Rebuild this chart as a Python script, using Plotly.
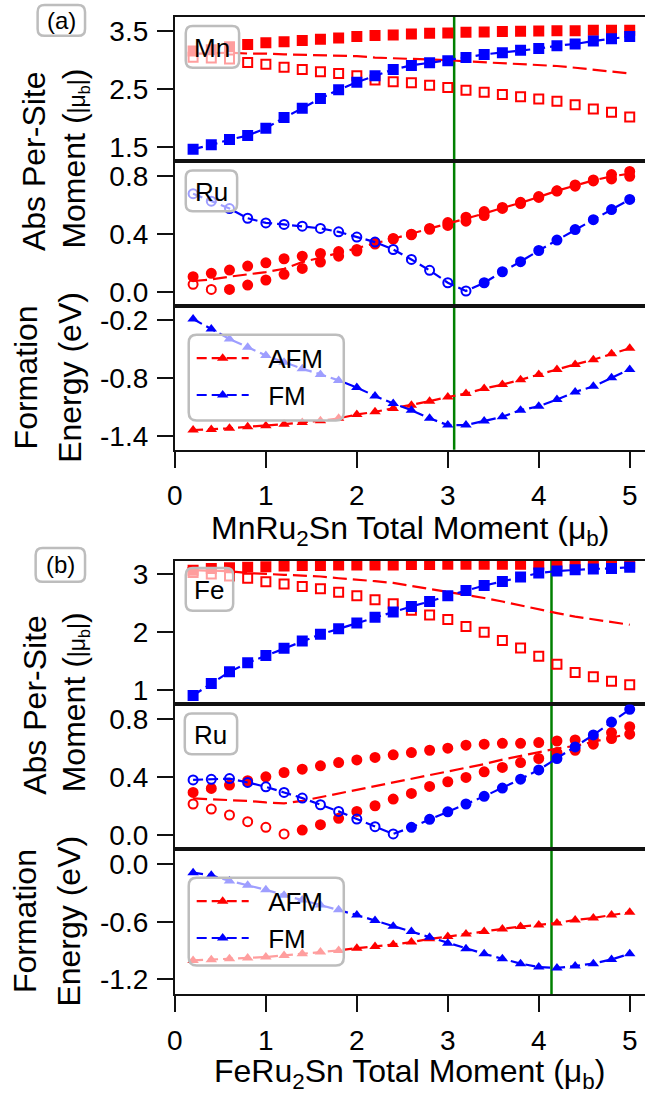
import plotly.graph_objects as go

# ---------------- data ----------------
x_moment = [0.2, 0.4, 0.6, 0.8, 1.0, 1.2, 1.4, 1.6, 1.8, 2.0, 2.2, 2.4, 2.6,
            2.8, 3.0, 3.2, 3.4, 3.6, 3.8, 4.0, 4.2, 4.4, 4.6, 4.8, 5.0]

# MnRu2Sn : Mn site moments (negative = antiparallel, drawn open)
mn_afm_site1 = [3.16, 3.18, 3.23, 3.27, 3.30, 3.32, 3.34, 3.36, 3.385, 3.41, 3.425, 3.436, 3.454,
                3.465, 3.47, 3.48, 3.488, 3.494, 3.50, 3.505, 3.51, 3.51, 3.517, 3.517, 3.517]
mn_afm_site2 = [-3.05, -3.04, -3.02, -2.96, -2.93, -2.88, -2.84, -2.80, -2.77, -2.73, -2.66, -2.63, -2.61,
                -2.57, -2.53, -2.48, -2.445, -2.41, -2.37, -2.33, -2.29, -2.23, -2.16, -2.10, -2.02]
mn_afm_mean = [3.11, 3.12, 3.13, 3.115, 3.115, 3.10, 3.09, 3.08, 3.075, 3.07, 3.045, 3.035, 3.03,
               3.02, 3.0, 2.98, 2.965, 2.95, 2.935, 2.92, 2.90, 2.87, 2.84, 2.81, 2.77]
mn_fm = [1.466, 1.54, 1.63, 1.70, 1.827, 2.01, 2.17, 2.34, 2.49, 2.62, 2.73, 2.84, 2.91,
         2.955, 2.99, 3.047, 3.10, 3.13, 3.17, 3.20, 3.25, 3.28, 3.33, 3.37, 3.41]

# MnRu2Sn : Ru site moments
ru_afm_site1_a = [0.106, 0.129, 0.152, 0.179, 0.202, 0.23, 0.248, 0.267, 0.28, 0.294, 0.34, 0.37, 0.40,
                  0.44, 0.48, 0.517, 0.556, 0.585, 0.62, 0.66, 0.70, 0.74, 0.775, 0.812, 0.834]
ru_afm_site2_a = [-0.053, -0.018, 0.018, 0.048, 0.083, 0.122, 0.163, 0.207, 0.248, 0.283, 0.332, 0.366, 0.396,
                  0.434, 0.46, 0.49, 0.529, 0.578, 0.612, 0.654, 0.698, 0.732, 0.768, 0.782, 0.80]
ru_afm_mean_a = [0.076, 0.087, 0.106, 0.122, 0.138, 0.161, 0.207, 0.237, 0.271, 0.306, 0.336, 0.368, 0.402,
                 0.437, 0.471, 0.506, 0.543, 0.582, 0.616, 0.657, 0.70, 0.736, 0.772, 0.80, 0.818]
ru_fm_a = [-0.68, -0.628, -0.577, -0.51, -0.478, -0.467, -0.455, -0.44, -0.416, -0.38, -0.345, -0.294, -0.225,
           -0.15, -0.064, -0.007, 0.064, 0.14, 0.21, 0.287, 0.359, 0.432, 0.50, 0.57, 0.64]

# MnRu2Sn : formation energy (eV)
form_afm_a = [-1.341, -1.336, -1.324, -1.307, -1.297, -1.28, -1.262, -1.245, -1.22, -1.18, -1.152, -1.118, -1.083,
              -1.042, -0.998, -0.963, -0.911, -0.87, -0.819, -0.764, -0.712, -0.66, -0.612, -0.55, -0.493]
form_fm_a = [-0.19, -0.293, -0.396, -0.482, -0.568, -0.637, -0.705, -0.764, -0.826, -0.90, -0.988, -1.066, -1.135,
             -1.22, -1.29, -1.29, -1.248, -1.204, -1.135, -1.094, -1.025, -0.946, -0.888, -0.798, -0.712]

# FeRu2Sn : Fe site moments
fe_afm_site1 = [3.07, 3.10, 3.11, 3.12, 3.13, 3.14, 3.15, 3.15, 3.16, 3.16, 3.16, 3.16, 3.165,
                3.165, 3.17, 3.17, 3.17, 3.17, 3.17, 3.17, 3.175, 3.175, 3.175, 3.175, 3.175]
fe_afm_site2 = [-3.03, -3.005, -2.97, -2.93, -2.87, -2.83, -2.79, -2.75, -2.69, -2.63, -2.56, -2.49, -2.38,
                -2.30, -2.22, -2.10, -2.0, -1.86, -1.73, -1.59, -1.45, -1.31, -1.235, -1.16, -1.10]
fe_afm_mean = [3.07, 3.06, 3.05, 3.02, 3.0, 2.99, 2.975, 2.96, 2.93, 2.91, 2.88, 2.85, 2.80,
               2.75, 2.70, 2.64, 2.59, 2.53, 2.46, 2.39, 2.33, 2.27, 2.22, 2.17, 2.13]
fe_fm = [0.915, 1.12, 1.32, 1.475, 1.60, 1.725, 1.85, 1.965, 2.06, 2.16, 2.26, 2.35, 2.445,
         2.53, 2.63, 2.72, 2.805, 2.875, 2.95, 3.02, 3.055, 3.075, 3.09, 3.10, 3.12]

# FeRu2Sn : Ru site moments
ru_afm_site1_b = [0.294, 0.322, 0.345, 0.375, 0.402, 0.432, 0.455, 0.478, 0.501, 0.519, 0.536, 0.554, 0.57,
                  0.586, 0.60, 0.621, 0.628, 0.634, 0.634, 0.639, 0.65, 0.657, 0.667, 0.708, 0.749]
ru_afm_site2_b = [-0.214, -0.179, -0.138, -0.092, -0.053, -0.007, 0.034, 0.071, 0.115, 0.163, 0.202, 0.248, 0.287,
                  0.336, 0.368, 0.398, 0.437, 0.467, 0.501, 0.529, 0.57, 0.586, 0.628, 0.667, 0.697]
ru_afm_mean_b = [0.253, 0.248, 0.244, 0.235, 0.225, 0.218, 0.236, 0.261, 0.287, 0.312, 0.338, 0.363, 0.389,
                 0.414, 0.44, 0.465, 0.49, 0.521, 0.547, 0.572, 0.598, 0.616, 0.644, 0.674, 0.701]
ru_fm_b = [-0.381, -0.385, -0.39, -0.363, -0.333, -0.294, -0.255, -0.209, -0.163, -0.11, -0.057, -0.007, 0.053,
           0.108, 0.16, 0.214, 0.267, 0.324, 0.386, 0.45, 0.529, 0.609, 0.692, 0.781, 0.869]

# FeRu2Sn : formation energy (eV)
form_afm_b = [-1.004, -0.997, -0.987, -0.98, -0.969, -0.952, -0.935, -0.917, -0.90, -0.876, -0.858, -0.838, -0.813,
              -0.779, -0.755, -0.727, -0.703, -0.675, -0.651, -0.633, -0.613, -0.581, -0.561, -0.53, -0.502]
form_fm_b = [-0.087, -0.114, -0.173, -0.218, -0.266, -0.322, -0.374, -0.426, -0.475, -0.53, -0.588, -0.647, -0.703,
             -0.761, -0.824, -0.883, -0.935, -0.987, -1.038, -1.073, -1.083, -1.062, -1.038, -0.994, -0.935]

# ground-state total moment marked by the green line
ground_state_moment = [3.07, 4.14]

compounds = ["MnRu<sub>2</sub>Sn", "FeRu<sub>2</sub>Sn"]
site_labels = ["Mn", "Ru", "Fe", "Ru"]
panel_tags = ["(a)", "(b)"]
series_names = ["AFM", "FM"]
x_tick_vals = [0, 1, 2, 3, 4, 5]
y_tick_vals = [[1.5, 2.5, 3.5], [0.0, 0.4, 0.8], [-1.4, -0.8, -0.2],
               [1, 2, 3], [0.0, 0.4, 0.8], [-1.2, -0.6, 0.0]]
y_tick_text = [["1.5", "2.5", "3.5"], ["0.0", "0.4", "0.8"], ["-1.4", "-0.8", "-0.2"],
               ["1", "2", "3"], ["0.0", "0.4", "0.8"], ["-1.2", "-0.6", "0.0"]]
y_ranges = [[1.254, 3.746], [-0.096, 0.903], [-1.547, -0.053],
            [0.76, 3.233], [-0.1, 0.903], [-1.359, 0.156]]
x_range = [0, 5.168]

# ---------------- styling / layout helpers ----------------
W, H = 645, 1096
RED, BLUE, GREEN = "#ff0000", "#0000ff", "#008000"
FONT = "Liberation Sans, Arial, Helvetica, sans-serif"
TICK_FS = 28
TITLE_FS = 32
X_LEFT = 169


def fx(p):
    return p / W


def fy(p):
    return 1 - p / H


rows_px = [(15, 160), (160, 305), (305, 449.5), (560.7, 705), (705, 850.5), (850.5, 996)]

fig = go.Figure()


def signed_markers(vals, base):
    return [abs(v) for v in vals], [base if v >= 0 else base + "-open" for v in vals]


def add_site(vals, color, base, row, size=9):
    y, sym = signed_markers(vals, base)
    fig.add_trace(go.Scatter(
        x=x_moment, y=y, mode="markers", xaxis=f"x{row}", yaxis=f"y{row}",
        marker=dict(symbol=sym, color=color, size=size, line=dict(color=color, width=2)),
        showlegend=False, hoverinfo="skip"))


def add_mean(vals, row):
    fig.add_trace(go.Scatter(
        x=x_moment, y=vals, mode="lines", xaxis=f"x{row}", yaxis=f"y{row}",
        line=dict(color=RED, width=2.2, dash="14px,6px"), showlegend=False, hoverinfo="skip"))


def add_fm(vals, base, row, size=9):
    y, sym = signed_markers(vals, base)
    fig.add_trace(go.Scatter(
        x=x_moment, y=y, mode="lines+markers", xaxis=f"x{row}", yaxis=f"y{row}",
        line=dict(color=BLUE, width=2.2, dash="10px,5px"),
        marker=dict(symbol=sym, color=BLUE, size=size, line=dict(color=BLUE, width=2)),
        showlegend=False, hoverinfo="skip"))


def add_energy(vals, color, name, row, legend):
    fig.add_trace(go.Scatter(
        x=x_moment, y=vals, mode="lines+markers", name="\u00a0\u00a0" + name,
        xaxis=f"x{row}", yaxis=f"y{row}",
        line=dict(color=color, width=2.2, dash="10px,5px"),
        marker=dict(symbol="triangle-up", color=color, size=10),
        legend=legend, showlegend=True, hoverinfo="skip"))


# panel (a)
add_site(mn_afm_site1, RED, "square", 1)
add_site(mn_afm_site2, RED, "square", 1)
add_mean(mn_afm_mean, 1)
add_fm(mn_fm, "square", 1)
add_site(ru_afm_site1_a, RED, "circle", 2)
add_site(ru_afm_site2_a, RED, "circle", 2)
add_mean(ru_afm_mean_a, 2)
add_fm(ru_fm_a, "circle", 2)
add_energy(form_afm_a, RED, series_names[0], 3, "legend")
add_energy(form_fm_a, BLUE, series_names[1], 3, "legend")
# panel (b)
add_site(fe_afm_site1, RED, "square", 4)
add_site(fe_afm_site2, RED, "square", 4)
add_mean(fe_afm_mean, 4)
add_fm(fe_fm, "square", 4)
add_site(ru_afm_site1_b, RED, "circle", 5)
add_site(ru_afm_site2_b, RED, "circle", 5)
add_mean(ru_afm_mean_b, 5)
add_fm(ru_fm_b, "circle", 5)
add_energy(form_afm_b, RED, series_names[0], 6, "legend2")
add_energy(form_fm_b, BLUE, series_names[1], 6, "legend2")

layout = dict(
    width=W, height=H, margin=dict(l=0, r=0, t=0, b=0),
    paper_bgcolor="white", plot_bgcolor="rgba(0,0,0,0)",
    font=dict(family=FONT, size=TICK_FS, color="black"),
    showlegend=True,
)

for i in range(6):
    r = i + 1
    top, bot = rows_px[i]
    bottom_axis = (r in (3, 6))
    layout[f"xaxis{r}"] = dict(
        domain=[fx(X_LEFT), 1.0], range=x_range, anchor=f"y{r}",
        showline=True, mirror=True, linecolor="#111", linewidth=2,
        showgrid=False, zeroline=False,
        ticks="outside" if bottom_axis else "", ticklen=16, tickwidth=2, tickcolor="#111",
        tickvals=x_tick_vals, showticklabels=bottom_axis,
        tickfont=dict(size=TICK_FS), ticklabelstandoff=4)
    layout[f"yaxis{r}"] = dict(
        domain=[fy(bot), fy(top)], range=y_ranges[i], anchor=f"x{r}",
        showline=True, mirror=False, linecolor="#111", linewidth=2,
        showgrid=False, zeroline=False,
        ticks="outside", ticklen=16, tickwidth=2, tickcolor="#111",
        tickvals=y_tick_vals[i], ticktext=y_tick_text[i],
        tickfont=dict(size=TICK_FS), ticklabelstandoff=3)

legend_style = dict(bgcolor="rgba(0,0,0,0)", borderwidth=0, font=dict(size=26),
                    itemwidth=52, xanchor="left", yanchor="top", tracegroupgap=0)
layout["legend"] = dict(x=fx(186), y=fy(334), **legend_style)
layout["legend2"] = dict(x=fx(186), y=fy(879), **legend_style)


def rrect(x0, y0, x1, y1, r=7):
    X = lambda p: f"{fx(p):.5f}"
    Y = lambda p: f"{fy(p):.5f}"
    path = (f"M {X(x0 + r)},{Y(y0)} L {X(x1 - r)},{Y(y0)} Q {X(x1)},{Y(y0)} {X(x1)},{Y(y0 + r)} "
            f"L {X(x1)},{Y(y1 - r)} Q {X(x1)},{Y(y1)} {X(x1 - r)},{Y(y1)} "
            f"L {X(x0 + r)},{Y(y1)} Q {X(x0)},{Y(y1)} {X(x0)},{Y(y1 - r)} "
            f"L {X(x0)},{Y(y0 + r)} Q {X(x0)},{Y(y0)} {X(x0 + r)},{Y(y0)} Z")
    return dict(type="path", path=path, xref="paper", yref="paper", layer="above",
                fillcolor="rgba(255,255,255,0.62)", line=dict(color="#bdbdbd", width=2.5))


shapes = []
# green ground-state lines
for g, (t, b) in enumerate([(15, 449.5), (560.7, 996)]):
    shapes.append(dict(type="line", xref=f"x{3 * g + 1}", yref="paper",
                       x0=ground_state_moment[g], x1=ground_state_moment[g],
                       y0=fy(b), y1=fy(t), line=dict(color=GREEN, width=2.5), layer="below"))
# label boxes
label_boxes = [(180, 24, 234, 66), (180, 169, 232, 210), (180, 568, 228, 611), (179, 714, 232, 755)]
for bx in label_boxes:
    shapes.append(rrect(*bx))
shapes.append(rrect(30, 3, 78, 34))
shapes.append(rrect(28, 548, 78, 582))
# legend boxes
shapes.append(rrect(183, 334, 340, 420, r=8))
shapes.append(rrect(183, 879, 340, 967, r=8))
layout["shapes"] = shapes

ann = []


def text(t, x, y, size=TICK_FS, angle=0):
    ann.append(dict(text=t, x=fx(x), y=fy(y), xref="paper", yref="paper", showarrow=False,
                    xanchor="center", yanchor="middle", textangle=angle,
                    font=dict(size=size, family=FONT, color="black")))


for lab, bx in zip(site_labels, label_boxes):
    text(lab, (bx[0] + bx[2]) / 2, (bx[1] + bx[3]) / 2 + 1, size=26)
text(panel_tags[0], 54, 18.5, size=24)
text(panel_tags[1], 53, 565, size=24)

for g, off in enumerate([0, 545.7]):
    text("Abs Per-Site", 27, 160 + off, size=TITLE_FS, angle=-90)
    text("Moment (<span style='font-size:23px'>|μ<sub>b</sub>|</span>)", 67, 157 + off, size=TITLE_FS, angle=-90)
    text("Formation", 18, 377 + off, size=TITLE_FS, angle=-90)
    text("Energy (eV)", 62, 377 + off, size=TITLE_FS, angle=-90)
    text(f"{compounds[g]} Total Moment (μ<sub>b</sub>)", 407, 530 + off, size=TITLE_FS)

layout["annotations"] = ann
fig.update_layout(**layout)
fig.write_html("out.html", config={"displayModeBar": False},
               post_script="document.body.style.margin='0';document.body.style.overflow='hidden';")
